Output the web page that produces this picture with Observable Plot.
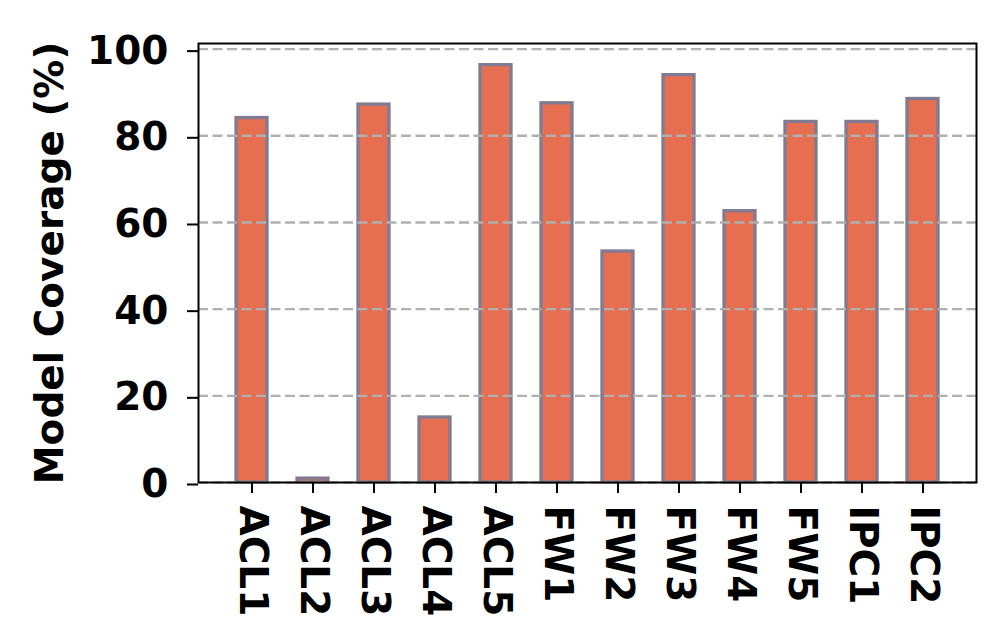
<!DOCTYPE html>
<html>
<head>
<meta charset="utf-8">
<script src="https://cdn.jsdelivr.net/npm/d3@7"></script>
<script src="https://cdn.jsdelivr.net/npm/@observablehq/plot@0.6"></script>
<style>
  html, body { margin: 0; padding: 0; background: white; }
  #chart svg { display: block; }
</style>
</head>
<body>
<div id="chart"></div>
<script>
const categories = ["ACL1","ACL2","ACL3","ACL4","ACL5","FW1","FW2","FW3","FW4","FW5","IPC1","IPC2"];
const coverage = [84.1, 0.9, 87.2, 15.0, 96.3, 87.5, 53.3, 94.0, 62.6, 83.2, 83.2, 88.5];
const yTicks = [0, 20, 40, 60, 80, 100];
const yLabel = "Model Coverage (%)";

const data = categories.map((c, i) => ({cat: c, v: coverage[i]}));
const font = "'DejaVu Sans', sans-serif";

const chart = Plot.plot({
  width: 996,
  height: 621,
  marginLeft: 198,
  marginRight: 20,
  marginTop: 43,
  marginBottom: 139,
  style: {fontFamily: font, fontWeight: "bold", fontSize: "39px", background: "white", color: "black"},
  x: {domain: categories, paddingInner: 0.5, paddingOuter: 0.575, label: null},
  y: {domain: [0, 101.3], label: null},
  marks: [
    Plot.barY(data, {x: "cat", y: "v", fill: "#e76f51", stroke: "#807b92", strokeWidth: 3.3}),
    Plot.gridY(yTicks, {stroke: "#b0b0b0", strokeOpacity: 1, strokeWidth: 2.4, strokeDasharray: "10,4.5"}),
    Plot.frame({stroke: "black", strokeWidth: 2}),
    Plot.axisY(yTicks, {tickSize: 11, tickPadding: 19, strokeWidth: 2, fontSize: 39, fontWeight: "bold", label: null, tickFormat: d => String(d), dy: 2}),
    Plot.axisX({tickSize: 11, tickPadding: 12, strokeWidth: 2, fontSize: 39, fontWeight: "bold", tickRotate: 90, label: null}),
    Plot.text([yLabel], {frameAnchor: "left", textAnchor: "middle", rotate: -90, dx: -148, fontSize: 39, fontWeight: "bold", text: d => d})
  ]
});
document.getElementById("chart").appendChild(chart);
</script>
</body>
</html>
